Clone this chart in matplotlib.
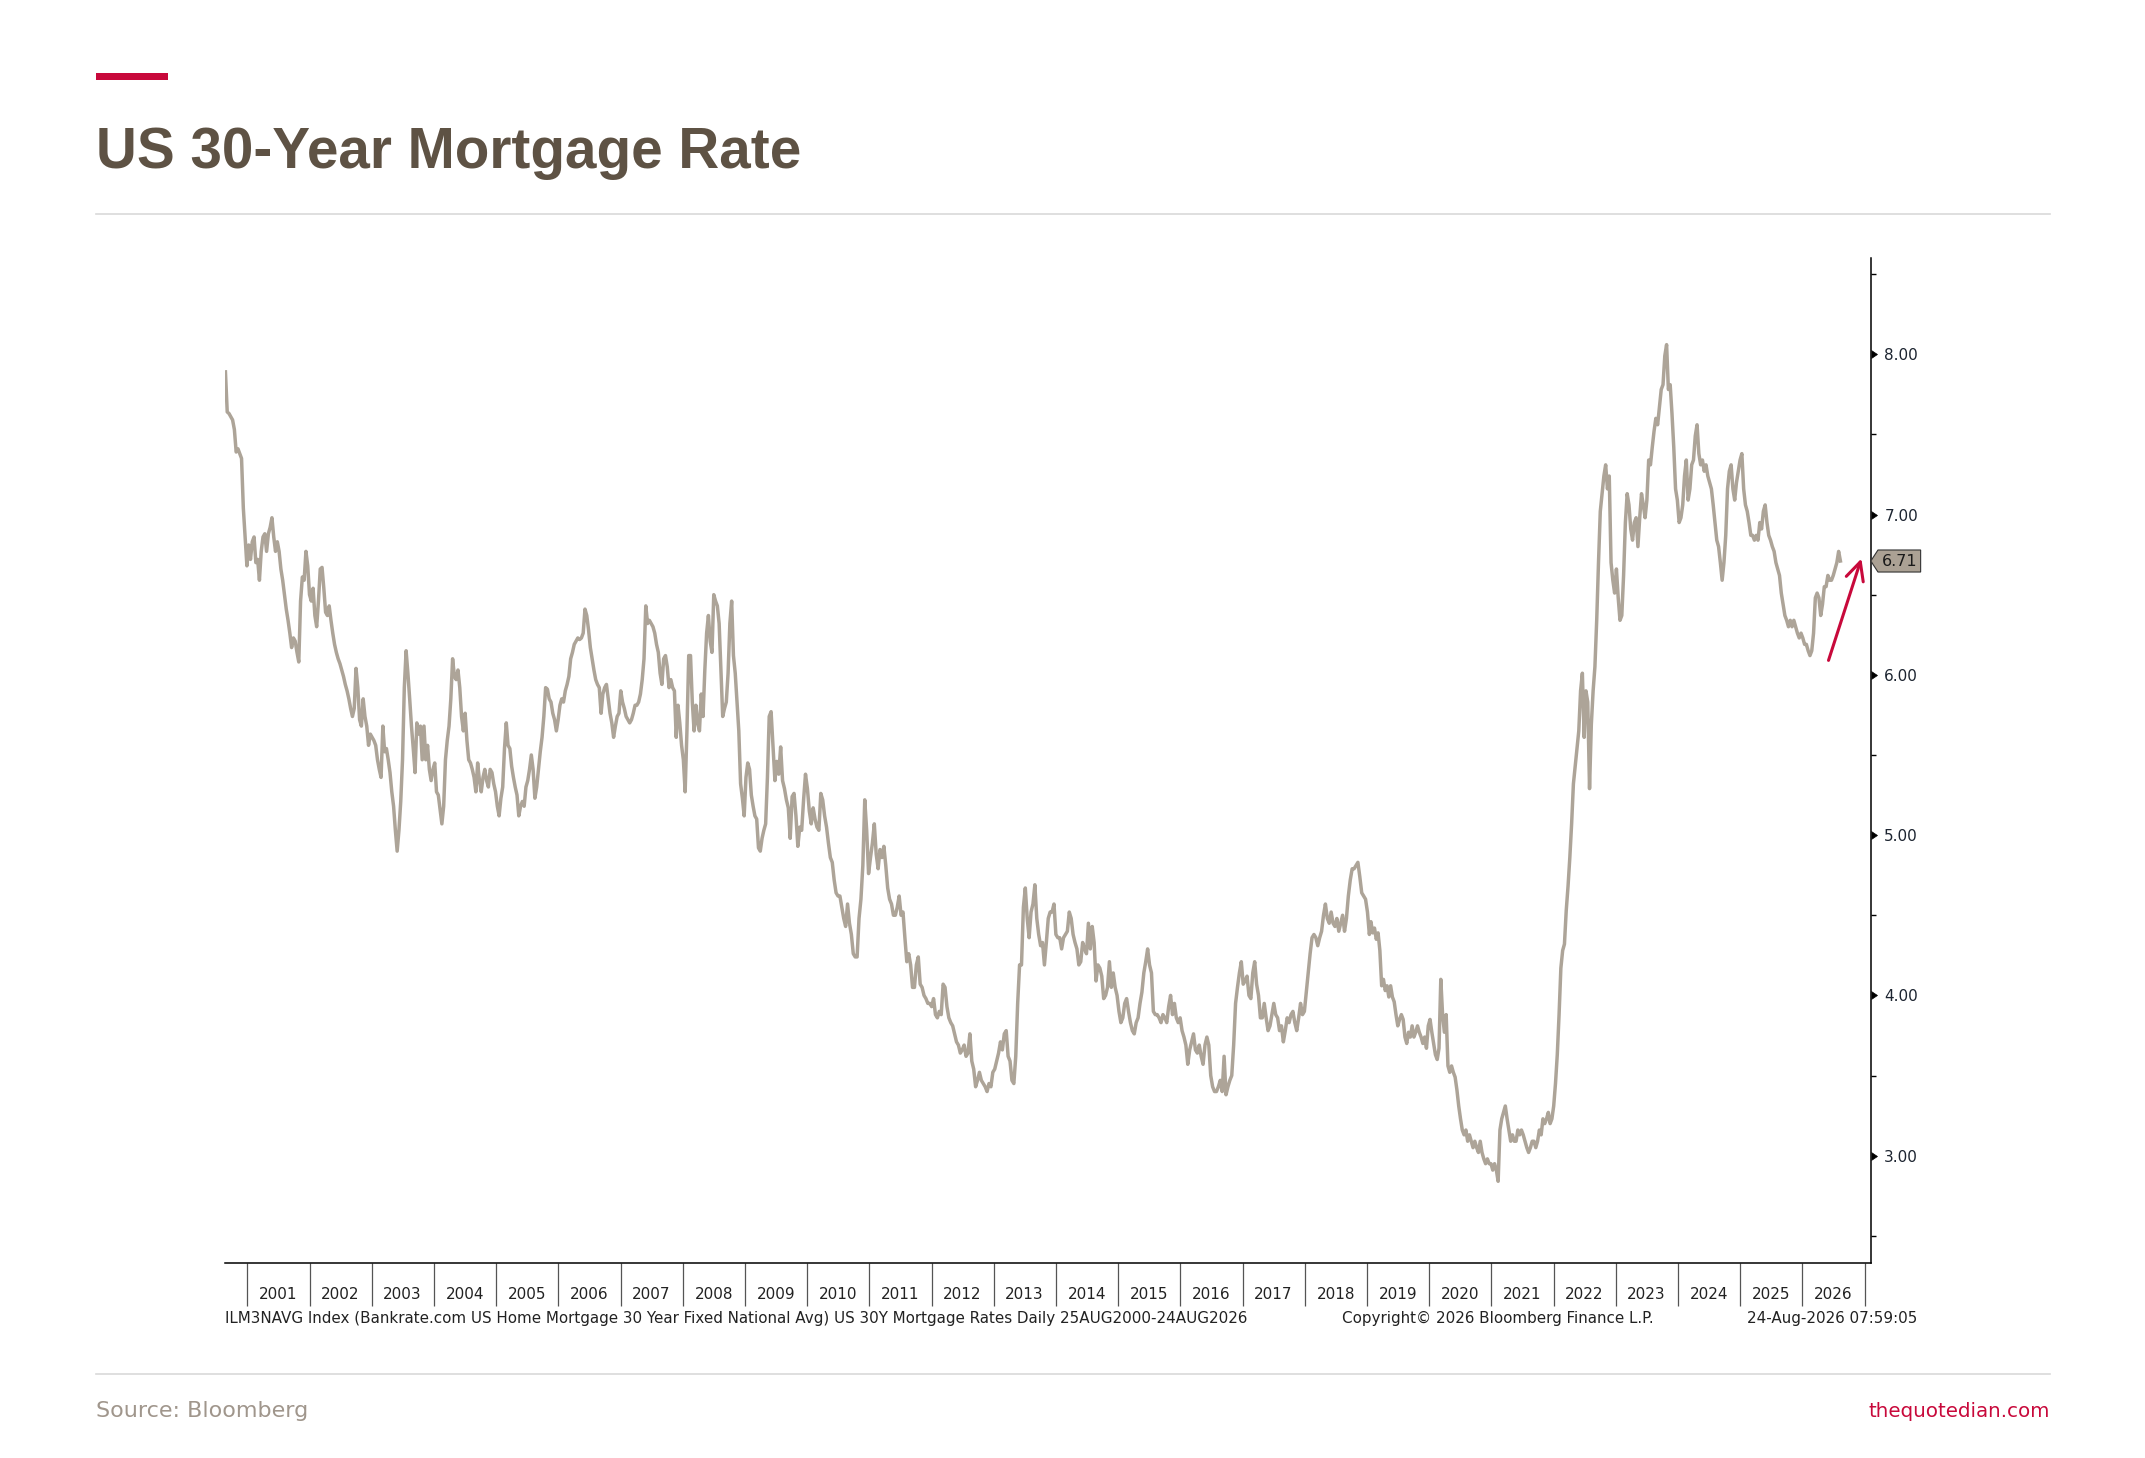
"""US 30-year mortgage rate, Bloomberg-style line chart with a quotedian frame."""
import matplotlib

matplotlib.use("Agg")

import matplotlib.dates as mdates
import matplotlib.markers as mmarkers
import matplotlib.pyplot as plt
import matplotlib.transforms as mtransforms
import pandas as pd
from matplotlib.lines import Line2D
from matplotlib.patches import Rectangle
from matplotlib.path import Path
from matplotlib.ticker import FormatStrFormatter, MultipleLocator, NullFormatter

RED = "#C8093B"
TITLE_C = "#5E5244"
LINE_C = "#ADA498"
SOURCE_C = "#A0968C"
RULE_C = "#D9D9D9"
INK = "#1C2430"

TITLE = "US 30-Year Mortgage Rate"
FOOTNOTE = ("ILM3NAVG Index (Bankrate.com US Home Mortgage 30 Year Fixed National Avg) "
            "US 30Y Mortgage Rates Daily 25AUG2000-24AUG2026")
COPYRIGHT = "Copyright\u00a9 2026 Bloomberg Finance L.P."
STAMP = "24-Aug-2026 07:59:05"
SOURCE = "Source: Bloomberg"
SITE = "thequotedian.com"

# rate readings, sampled at equal steps inside each period
SEG_A_START, SEG_A_END = "2000-08-25", "2009-05-23"
SEG_A = [
    7.89, 7.64, 7.63, 7.61, 7.59, 7.53, 7.39, 7.41, 7.38, 7.35,
    7.04, 6.86, 6.68, 6.81, 6.72, 6.83, 6.86, 6.70, 6.72, 6.59,
    6.77, 6.86, 6.88, 6.77, 6.88, 6.92, 6.98, 6.86, 6.77, 6.83,
    6.77, 6.66, 6.59, 6.50, 6.41, 6.34, 6.26, 6.17, 6.23, 6.21,
    6.14, 6.08, 6.46, 6.61, 6.59, 6.77, 6.68, 6.50, 6.46, 6.54,
    6.37, 6.30, 6.46, 6.66, 6.67, 6.54, 6.39, 6.37, 6.43, 6.34,
    6.26, 6.19, 6.14, 6.10, 6.07, 6.03, 5.99, 5.94, 5.90, 5.85,
    5.79, 5.74, 5.79, 6.04, 5.92, 5.72, 5.68, 5.85, 5.74, 5.68,
    5.56, 5.63, 5.61, 5.59, 5.56, 5.47, 5.41, 5.36, 5.68, 5.52,
    5.54, 5.47, 5.39, 5.27, 5.18, 5.03, 4.90, 5.03, 5.21, 5.47,
    5.92, 6.15, 6.01, 5.85, 5.68, 5.54, 5.39, 5.70, 5.63, 5.68,
    5.47, 5.68, 5.47, 5.56, 5.41, 5.34, 5.41, 5.45, 5.27, 5.25,
    5.16, 5.07, 5.18, 5.47, 5.59, 5.68, 5.85, 6.10, 5.99, 5.97,
    6.03, 5.92, 5.74, 5.65, 5.76, 5.59, 5.47, 5.45, 5.41, 5.36,
    5.27, 5.45, 5.34, 5.27, 5.36, 5.41, 5.34, 5.30, 5.41, 5.39,
    5.32, 5.27, 5.18, 5.12, 5.23, 5.30, 5.54, 5.70, 5.56, 5.54,
    5.43, 5.36, 5.30, 5.25, 5.12, 5.18, 5.21, 5.18, 5.30, 5.34,
    5.41, 5.50, 5.41, 5.23, 5.30, 5.41, 5.52, 5.61, 5.74, 5.92,
    5.91, 5.85, 5.83, 5.76, 5.72, 5.65, 5.72, 5.81, 5.85, 5.83,
    5.90, 5.94, 5.99, 6.10, 6.14, 6.19, 6.21, 6.23, 6.22, 6.23,
    6.26, 6.41, 6.37, 6.28, 6.17, 6.10, 6.03, 5.97, 5.94, 5.92,
    5.76, 5.88, 5.92, 5.94, 5.85, 5.76, 5.70, 5.61, 5.68, 5.74,
    5.76, 5.90, 5.83, 5.79, 5.74, 5.72, 5.70, 5.72, 5.76, 5.81,
    5.81, 5.83, 5.88, 5.97, 6.10, 6.43, 6.32, 6.34, 6.32, 6.30,
    6.26, 6.19, 6.14, 6.01, 5.94, 6.10, 6.12, 6.05, 5.92, 5.97,
    5.92, 5.90, 5.61, 5.81, 5.70, 5.56, 5.47, 5.27, 5.65, 6.12,
    6.12, 5.83, 5.65, 5.81, 5.70, 5.65, 5.88, 5.74, 6.03, 6.26,
    6.37, 6.21, 6.14, 6.50, 6.46, 6.43, 6.32, 6.03, 5.74, 5.79,
    5.83, 6.01, 6.32, 6.46, 6.12, 6.01, 5.83, 5.65, 5.32, 5.23,
    5.12, 5.36, 5.45, 5.41, 5.25, 5.18, 5.12, 5.10, 4.92, 4.90,
    4.98, 5.03, 5.07, 5.36, 5.74,
]

SEG_B_START, SEG_B_END = "2009-06-03", "2019-01-15"
SEG_B = [
    5.77, 5.55, 5.34, 5.46, 5.38, 5.55, 5.34, 5.29, 5.22, 5.17,
    4.98, 5.24, 5.26, 5.12, 4.93, 5.05, 5.03, 5.22, 5.38, 5.29,
    5.15, 5.07, 5.17, 5.10, 5.05, 5.03, 5.26, 5.22, 5.12, 5.05,
    4.95, 4.86, 4.83, 4.72, 4.64, 4.62, 4.62, 4.55, 4.48, 4.43,
    4.57, 4.45, 4.38, 4.26, 4.24, 4.24, 4.48, 4.60, 4.81, 5.22,
    5.03, 4.76, 4.86, 4.95, 5.07, 4.88, 4.79, 4.91, 4.86, 4.93,
    4.81, 4.67, 4.60, 4.57, 4.50, 4.50, 4.55, 4.62, 4.50, 4.52,
    4.36, 4.21, 4.26, 4.19, 4.05, 4.05, 4.19, 4.24, 4.07, 4.05,
    4.00, 3.98, 3.95, 3.95, 3.93, 3.98, 3.88, 3.86, 3.90, 3.88,
    4.07, 4.05, 3.93, 3.86, 3.83, 3.81, 3.76, 3.71, 3.69, 3.64,
    3.66, 3.69, 3.62, 3.64, 3.76, 3.59, 3.54, 3.43, 3.47, 3.52,
    3.47, 3.45, 3.43, 3.40, 3.45, 3.43, 3.52, 3.54, 3.59, 3.64,
    3.71, 3.66, 3.76, 3.78, 3.62, 3.59, 3.47, 3.45, 3.62, 3.95,
    4.19, 4.19, 4.55, 4.67, 4.48, 4.36, 4.52, 4.57, 4.69, 4.48,
    4.38, 4.31, 4.33, 4.19, 4.33, 4.48, 4.52, 4.52, 4.57, 4.38,
    4.36, 4.36, 4.29, 4.36, 4.38, 4.40, 4.52, 4.48, 4.38, 4.33,
    4.29, 4.19, 4.21, 4.33, 4.29, 4.26, 4.45, 4.29, 4.43, 4.33,
    4.09, 4.19, 4.17, 4.12, 3.98, 4.00, 4.05, 4.21, 4.05, 4.14,
    4.05, 4.00, 3.90, 3.83, 3.86, 3.95, 3.98, 3.90, 3.83, 3.78,
    3.76, 3.83, 3.86, 3.95, 4.02, 4.14, 4.21, 4.29, 4.19, 4.14,
    3.90, 3.88, 3.88, 3.86, 3.83, 3.88, 3.86, 3.83, 3.93, 4.00,
    3.88, 3.95, 3.86, 3.83, 3.86, 3.78, 3.74, 3.69, 3.57, 3.66,
    3.71, 3.76, 3.66, 3.64, 3.69, 3.62, 3.57, 3.69, 3.74, 3.69,
    3.50, 3.43, 3.40, 3.40, 3.43, 3.47, 3.40, 3.62, 3.38, 3.43,
    3.47, 3.50, 3.69, 3.95, 4.05, 4.14, 4.21, 4.07, 4.09, 4.12,
    4.00, 3.98, 4.14, 4.21, 4.07, 4.00, 3.86, 3.86, 3.95, 3.86,
    3.78, 3.81, 3.88, 3.95, 3.88, 3.86, 3.78, 3.81, 3.71, 3.78,
    3.86, 3.83, 3.88, 3.90, 3.83, 3.78, 3.86, 3.95, 3.88, 3.90,
    4.02, 4.14, 4.26, 4.36, 4.38, 4.36, 4.31, 4.36, 4.40, 4.50,
    4.57, 4.48, 4.45, 4.52, 4.45, 4.43, 4.48, 4.40, 4.45, 4.50,
    4.40, 4.48, 4.62, 4.72, 4.79, 4.79, 4.81, 4.83, 4.74, 4.64,
    4.62, 4.60, 4.52, 4.38,
]

SEG_C_START, SEG_C_END = "2019-01-24", "2026-08-12"
SEG_C = [
    4.46, 4.39, 4.42, 4.35, 4.39, 4.28, 4.06, 4.10, 4.03, 4.06,
    3.99, 4.06, 3.99, 3.96, 3.88, 3.81, 3.85, 3.88, 3.85, 3.74,
    3.70, 3.77, 3.74, 3.81, 3.74, 3.77, 3.81, 3.77, 3.74, 3.70,
    3.74, 3.67, 3.81, 3.85, 3.77, 3.70, 3.63, 3.60, 3.67, 4.10,
    3.88, 3.77, 3.88, 3.56, 3.52, 3.56, 3.52, 3.49, 3.41, 3.31,
    3.23, 3.16, 3.13, 3.16, 3.09, 3.13, 3.09, 3.05, 3.09, 3.05,
    3.02, 3.09, 3.02, 2.98, 2.95, 2.98, 2.95, 2.95, 2.91, 2.95,
    2.91, 2.84, 3.16, 3.23, 3.27, 3.31, 3.23, 3.16, 3.09, 3.13,
    3.09, 3.09, 3.16, 3.13, 3.16, 3.13, 3.09, 3.05, 3.02, 3.05,
    3.09, 3.09, 3.05, 3.09, 3.16, 3.13, 3.23, 3.20, 3.23, 3.27,
    3.20, 3.23, 3.31, 3.45, 3.63, 3.88, 4.17, 4.28, 4.32, 4.53,
    4.68, 4.86, 5.07, 5.32, 5.43, 5.54, 5.65, 5.90, 6.01, 5.61,
    5.90, 5.83, 5.29, 5.69, 5.90, 6.05, 6.34, 6.70, 7.02, 7.13,
    7.24, 7.31, 7.16, 7.24, 6.70, 6.59, 6.51, 6.66, 6.48, 6.34,
    6.37, 6.62, 6.95, 7.13, 7.06, 6.91, 6.84, 6.95, 6.98, 6.80,
    6.98, 7.13, 7.06, 6.98, 7.09, 7.34, 7.31, 7.42, 7.52, 7.60,
    7.56, 7.67, 7.78, 7.81, 7.99, 8.06, 7.78, 7.81, 7.63, 7.42,
    7.16, 7.09, 6.95, 6.98, 7.06, 7.24, 7.34, 7.09, 7.16, 7.31,
    7.34, 7.49, 7.56, 7.38, 7.31, 7.34, 7.27, 7.31, 7.24, 7.20,
    7.16, 7.06, 6.95, 6.84, 6.80, 6.70, 6.59, 6.70, 6.87, 7.16,
    7.27, 7.31, 7.16, 7.09, 7.20, 7.27, 7.34, 7.38, 7.16, 7.06,
    7.02, 6.95, 6.87, 6.87, 6.84, 6.87, 6.84, 6.95, 6.91, 7.02,
    7.06, 6.95, 6.87, 6.84, 6.80, 6.77, 6.70, 6.66, 6.62, 6.51,
    6.44, 6.37, 6.34, 6.30, 6.34, 6.30, 6.34, 6.30, 6.26, 6.23,
    6.26, 6.23, 6.19, 6.19, 6.15, 6.12, 6.15, 6.26, 6.48, 6.51,
    6.48, 6.37, 6.44, 6.55, 6.55, 6.62, 6.59, 6.59, 6.62, 6.66,
    6.70, 6.77, 6.71,
]

Y_TICKS = [3, 4, 5, 6, 7, 8]
Y_LIM = (2.33, 8.60)
X_LIM = ("2000-08-25", "2027-02-08")

# hand-drawn red arrow pointing at the latest print
ARROW_FROM = ("2026-06-03", 6.09)
ARROW_TO = ("2026-12-13", 6.725)


def tag_box(x0, y0, width, height, mutation_size):
    """Rectangle with a pointed left side, like Bloomberg's last-price tag."""
    pad = 0.22 * mutation_size
    tip = 0.45 * mutation_size
    x0, y0 = x0 - pad, y0 - pad
    x1, y1 = x0 + width + 2 * pad, y0 + height + 2 * pad
    ym = (y0 + y1) / 2
    return Path([(x0 - tip, ym), (x0, y1), (x1, y1), (x1, y0), (x0, y0), (x0 - tip, ym)],
                closed=True)


segments = [(SEG_A_START, SEG_A_END, SEG_A),
            (SEG_B_START, SEG_B_END, SEG_B),
            (SEG_C_START, SEG_C_END, SEG_C)]
dates, rates = [], []
for start, end, vals in segments:
    dates.extend(pd.date_range(start, end, periods=len(vals)))
    rates.extend(vals)
series = pd.Series(rates, index=pd.DatetimeIndex(dates))
last = series.iloc[-1]

plt.rcParams["font.family"] = ["DejaVu Sans"]

fig = plt.figure(figsize=(21.45, 14.58), dpi=100)
fig.patch.set_facecolor("white")

RIGHT_EDGE = 0.9555

# frame: red accent, title, rules, source line
fig.add_artist(Rectangle((0.0448, 0.9451), 0.0336, 0.0048, transform=fig.transFigure,
                         facecolor=RED, edgecolor="none"))
fig.text(0.0448, 0.8848, TITLE, fontsize=40.8, fontweight="bold", color=TITLE_C,
         family=["Liberation Sans", "DejaVu Sans"], va="baseline", ha="left")
fig.add_artist(Line2D([0.0448, RIGHT_EDGE], [0.8532, 0.8532], transform=fig.transFigure,
                      color=RULE_C, lw=1.2))
fig.add_artist(Line2D([0.0448, RIGHT_EDGE], [0.0576, 0.0576], transform=fig.transFigure,
                      color=RULE_C, lw=1.2))
fig.text(0.0448, 0.0281, SOURCE, fontsize=16, color=SOURCE_C, va="baseline", ha="left")
fig.text(RIGHT_EDGE, 0.0281, SITE, fontsize=14.3, color=RED, va="baseline", ha="right")

# Bloomberg footer
fig.text(0.1051, 0.0926, FOOTNOTE, fontsize=10.9, color="#222222", va="baseline")
fig.text(0.6256, 0.0926, COPYRIGHT, fontsize=10.9, color="#222222", va="baseline")
fig.text(0.8937, 0.0926, STAMP, fontsize=10.9, color="#222222", va="baseline", ha="right")

ax = fig.add_axes([0.1051, 0.1337, 0.7672, 0.6893])
ax.plot(series.index, series.values, color=LINE_C, lw=2.5)

ax.set_xlim(pd.Timestamp(X_LIM[0]), pd.Timestamp(X_LIM[1]))
ax.set_ylim(*Y_LIM)

for side in ("left", "top"):
    ax.spines[side].set_visible(False)
for side in ("bottom", "right"):
    ax.spines[side].set_color("black")
    ax.spines[side].set_linewidth(1.1)

# x: year separators as major ticks, year names centred on mid-year minor ticks
ax.xaxis.set_major_locator(mdates.YearLocator())
ax.xaxis.set_major_formatter(NullFormatter())
ax.xaxis.set_minor_locator(mdates.YearLocator(month=7, day=1))
ax.xaxis.set_minor_formatter(mdates.DateFormatter("%Y"))
ax.tick_params(axis="x", which="major", length=31, width=0.9, color="#555555",
               direction="out")
ax.tick_params(axis="x", which="minor", length=0, pad=17, labelsize=11,
               labelcolor="#222222")

# y: right side, triangle markers for majors
ax.yaxis.tick_right()
ax.set_yticks(Y_TICKS)
ax.yaxis.set_major_formatter(FormatStrFormatter("%.2f"))
ax.yaxis.set_minor_locator(MultipleLocator(0.5))
ax.tick_params(axis="y", which="major", length=6, pad=3.5, labelsize=11,
               labelcolor=INK, color="black")
ax.tick_params(axis="y", which="minor", length=3.5, width=1, color="black")
for t in ax.yaxis.get_major_ticks():
    t.tick2line.set_marker(mmarkers.CARETRIGHTBASE)
    t.tick2line.set_markersize(6)
    t.tick2line.set_markerfacecolor("black")
    t.tick2line.set_markeredgecolor("black")
    t.tick2line.set_markeredgewidth(0.5)

# last-price tag on the axis
tag_tr = mtransforms.blended_transform_factory(ax.transAxes, ax.transData)
ax.annotate(f"{last:.2f}", xy=(1, last), xycoords=tag_tr, xytext=(7.5, 0),
            textcoords="offset points", ha="left", va="center", fontsize=11.5,
            color="#1A1A1A", annotation_clip=False,
            bbox=dict(boxstyle=tag_box, facecolor="#ABA194", edgecolor="#333333", lw=0.8))

ax.annotate("", xy=(pd.Timestamp(ARROW_TO[0]), ARROW_TO[1]),
            xytext=(pd.Timestamp(ARROW_FROM[0]), ARROW_FROM[1]),
            annotation_clip=False,
            arrowprops=dict(arrowstyle="->,head_length=0.65,head_width=0.32",
                            mutation_scale=20, color=RED, lw=2.2,
                            shrinkA=0, shrinkB=0))

fig.savefig("out.png", dpi=100, facecolor="white")
plt.close(fig)
